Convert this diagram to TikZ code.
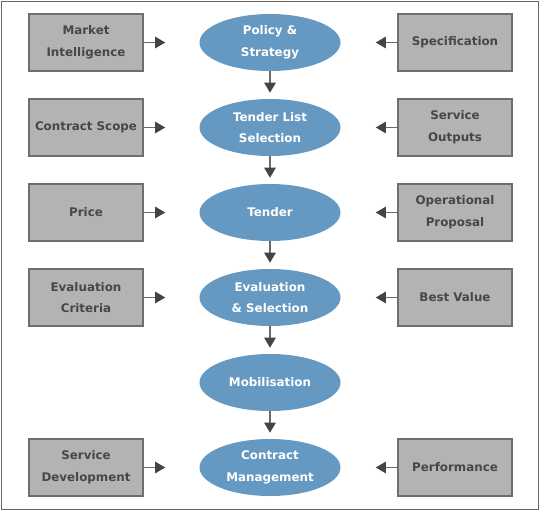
\documentclass[tikz,border=0pt]{standalone}
\usepackage{fontspec}
\setmainfont{DejaVu Sans}
\usetikzlibrary{arrows.meta,positioning,calc,shapes.geometric}

\definecolor{boxgray}{HTML}{B3B3B3}
\definecolor{boxline}{HTML}{6E6E6E}
\definecolor{stageblue}{HTML}{6699C2}
\definecolor{txtgray}{HTML}{474747}
\definecolor{shaftgray}{HTML}{6A6A6A}
\definecolor{tipgray}{HTML}{444444}
\definecolor{framegray}{HTML}{666666}

\tikzset{
  inbox/.style={draw=boxline, line width=1pt, fill=boxgray,
    minimum width=85.5pt, minimum height=42.75pt, inner sep=0pt,
    text=txtgray, align=center, font=\bfseries\fontsize{8.9}{16.3}\selectfont},
  stage/.style={ellipse, fill=stageblue, minimum width=105.75pt, minimum height=42.75pt,
    inner sep=0pt, text=white, align=center, font=\bfseries\fontsize{8.9}{16.3}\selectfont},
  flow/.style={draw=shaftgray, line width=1.1pt,
    -{Triangle[length=7.5pt,width=8.5pt,color=tipgray]}}
}

\begin{document}
\begin{tikzpicture}[x=0.75pt,y=-0.75pt]

  \useasboundingbox (0,0) rectangle (540,511);
  \draw [framegray, line width=0.9pt] (1.5,1.5) rectangle (538.5,509.5);

  %% process stages, top to bottom
  \foreach \a/\txt in {1/{Policy \&\\Strategy},2/{Tender List\\Selection},3/Tender,%
      4/{Evaluation\\\& Selection},5/Mobilisation,6/{Contract\\Management}} {
    \node [stage] (stage_\a) at (270,\a*85-42.5) {\txt};
  }
  \foreach \a [evaluate=\a as \b using int(\a+1)] in {1,...,5} {
    \draw [flow, shorten >=4.5pt] (stage_\a) -- (stage_\b);
  }

  %% inputs on the left
  \foreach \a/\txt in {1/{Market\\Intelligence},2/Contract Scope,3/Price,%
      4/{Evaluation\\Criteria},6/{Service\\Development}} {
    \node [inbox] (lbox_\a) at (86,\a*85-42.5) {\txt};
    \draw [flow, shorten >=25.5pt] (lbox_\a) -- (stage_\a);
  }

  %% inputs on the right
  \foreach \a/\txt in {1/Specification,2/{Service\\Outputs},3/{Operational\\Proposal},%
      4/Best Value,6/Performance} {
    \node [inbox] (rbox_\a) at (455,\a*85-42.5) {\txt};
    \draw [flow, shorten >=26.25pt] (rbox_\a) -- (stage_\a);
  }

\end{tikzpicture}
\end{document}
